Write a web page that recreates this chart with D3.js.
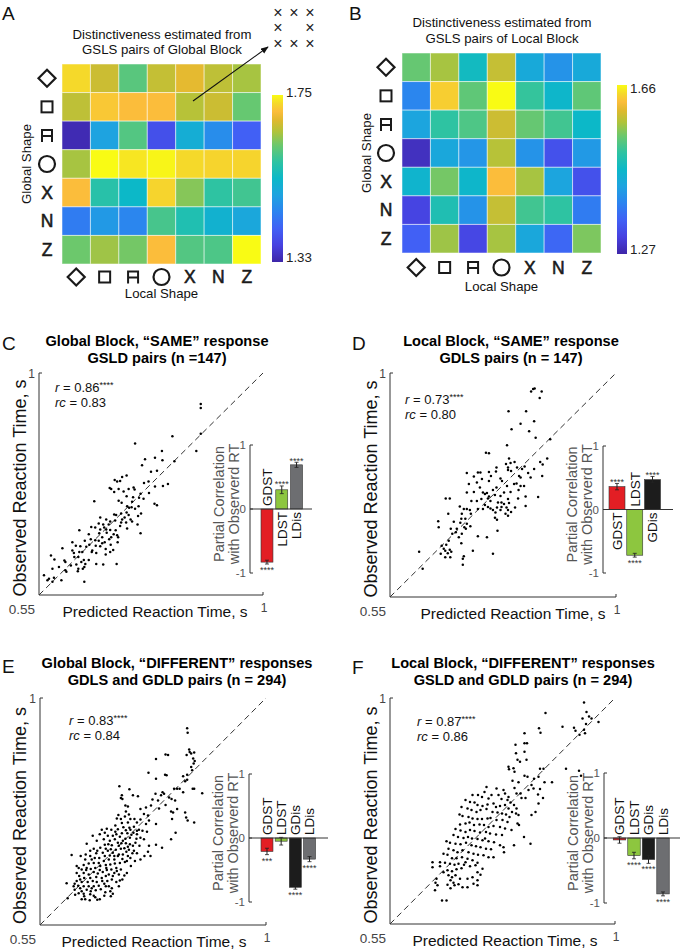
<!DOCTYPE html>
<html><head><meta charset="utf-8">
<script src="https://cdn.jsdelivr.net/npm/d3@7"></script>
<style>
body{margin:0;background:#fff}
svg text{font-family:'Liberation Sans',Arial,Helvetica,sans-serif}
</style>
</head><body>
<svg id="fig" width="680" height="951"></svg>
<script>
// ================= DATA =================
const shapeNames = ["diamond","square","arch","circle","X","N","Z"];

// Distinctiveness matrices (rows: global shape, cols: local shape)
const heatA = [
 [1.729,1.674,1.611,1.670,1.691,1.666,1.653],
 [1.666,1.716,1.708,1.708,1.662,1.674,1.620],
 [1.338,1.498,1.607,1.393,1.519,1.469,1.414],
 [1.653,1.750,1.737,1.746,1.729,1.725,1.725],
 [1.708,1.574,1.540,1.725,1.637,1.582,1.595],
 [1.448,1.485,1.460,1.599,1.565,1.527,1.506],
 [1.624,1.649,1.628,1.708,1.607,1.603,1.750]
];
const heatB = [
 [1.539,1.570,1.473,1.586,1.438,1.407,1.438],
 [1.391,1.633,1.535,1.660,1.508,1.461,1.535],
 [1.430,1.504,1.524,1.590,1.539,1.516,1.465],
 [1.286,1.434,1.410,1.578,1.407,1.329,1.414],
 [1.457,1.547,1.461,1.621,1.570,1.430,1.329],
 [1.313,1.488,1.407,1.586,1.516,1.504,1.379],
 [1.348,1.566,1.317,1.570,1.434,1.356,1.551]
];
const rangeA = [1.33, 1.75];
const rangeB = [1.27, 1.66];
const parulaPos = [0, .1, .2, .3, .4, .5, .6, .7, .78, .85, .9, .95, 1];
const parulaCol = ["#3e26a8","#4741e0","#4160f5","#2c83f0","#1ea3e0","#0cb8c8","#2ec3a2","#6cc86c","#b0c33a","#e0b92e","#fbbd3b","#f5d92a","#f9fb14"];

// Scatter data: [predicted RT, observed RT] in seconds
const scatterC = [
[.875,.937],[.875,.929],[.875,.877],[.818,.872],[.743,.857],[.866,.842],[.797,.842],[.783,.828],[.763,.825],[.798,.823],
[.822,.821],[.757,.813],[.787,.802],[.775,.800],[.726,.792],[.717,.789],[.702,.783],[.713,.781],[.707,.780],[.695,.765],
[.710,.765],[.692,.767],[.742,.764],[.730,.765],[.761,.777],[.770,.780],[.809,.775],[.799,.771],[.783,.770],[.771,.757],
[.754,.755],[.726,.750],[.739,.748],[.751,.747],[.760,.745],[.782,.735],[.787,.732],[.661,.740],[.710,.741],[.716,.737],
[.727,.730],[.736,.728],[.731,.727],[.750,.730],[.701,.713],[.705,.712],[.715,.715],[.726,.717],[.730,.712],[.734,.703],
[.737,.699],[.749,.710],[.755,.715],[.685,.703],[.693,.699],[.690,.693],[.703,.701],[.717,.703],[.715,.697],[.725,.697],
[.748,.693],[.670,.695],[.679,.693],[.655,.688],[.663,.687],[.673,.683],[.685,.683],[.693,.682],[.704,.681],[.713,.690],
[.631,.681],[.650,.673],[.671,.675],[.686,.676],[.700,.673],[.707,.671],[.709,.667],[.695,.667],[.677,.667],[.754,.675],
[.727,.685],[.654,.663],[.663,.661],[.670,.660],[.642,.660],[.677,.655],[.682,.657],[.694,.652],[.708,.657],[.617,.657],
[.624,.650],[.633,.649],[.645,.648],[.651,.652],[.664,.650],[.673,.649],[.684,.643],[.699,.641],[.693,.637],[.684,.632],
[.665,.635],[.656,.637],[.637,.637],[.620,.635],[.617,.640],[.631,.637],[.597,.645],[.574,.630],[.581,.622],[.601,.620],
[.603,.617],[.621,.627],[.635,.617],[.640,.621],[.625,.612],[.641,.607],[.638,.603],[.629,.603],[.628,.598],[.643,.613],
[.665,.613],[.679,.612],[.706,.613],[.650,.621],[.577,.603],[.590,.607],[.603,.600],[.605,.597],[.580,.585],[.560,.590],
[.567,.580],[.577,.577],[.595,.580],[.641,.577],[.570,.583],[.740,.768],[.701,.759],[.737,.739],[.743,.725],[.681,.687],
[.657,.640],[.614,.610],[.629,.627],[.720,.760],[.691,.663],[.722,.707],[.673,.707]
];
const scatterD = [
[.835,.968],[.838,.969],[.831,.963],[.852,.963],[.848,.950],[.786,.923],[.821,.923],[.810,.898],[.837,.903],[.792,.887],
[.827,.883],[.840,.870],[.783,.855],[.741,.840],[.747,.839],[.869,.867],[.863,.828],[.849,.821],[.854,.816],[.798,.821],
[.790,.819],[.781,.817],[.785,.810],[.762,.810],[.747,.801],[.725,.800],[.703,.799],[.717,.792],[.751,.793],[.770,.788],
[.785,.805],[.791,.803],[.803,.810],[.813,.807],[.818,.812],[.825,.799],[.830,.790],[.837,.807],[.853,.793],[.807,.793],
[.773,.783],[.747,.783],[.733,.787],[.723,.780],[.797,.777],[.802,.778],[.810,.773],[.817,.773],[.783,.773],[.762,.770],
[.755,.765],[.777,.760],[.790,.761],[.806,.765],[.735,.760],[.739,.757],[.743,.759],[.717,.761],[.703,.760],[.747,.752],
[.759,.755],[.770,.753],[.732,.747],[.745,.748],[.712,.743],[.723,.743],[.661,.748],[.669,.748],[.785,.747],[.777,.737],
[.787,.739],[.805,.748],[.820,.752],[.845,.751],[.689,.732],[.697,.727],[.703,.727],[.709,.725],[.739,.735],[.745,.731],
[.735,.727],[.750,.728],[.763,.730],[.772,.731],[.782,.730],[.755,.725],[.770,.725],[.785,.725],[.780,.717],[.791,.721],
[.820,.733],[.799,.730],[.759,.709],[.763,.705],[.785,.713],[.760,.720],[.666,.717],[.693,.717],[.692,.707],[.711,.717],
[.646,.702],[.647,.690],[.671,.687],[.690,.699],[.703,.697],[.710,.692],[.683,.687],[.701,.687],[.674,.677],[.681,.680],
[.693,.677],[.687,.670],[.725,.672],[.743,.670],[.764,.683],[.667,.663],[.692,.658],[.662,.655],[.653,.653],[.657,.647],
[.669,.645],[.672,.641],[.715,.643],[.665,.638],[.651,.637],[.660,.630],[.670,.630],[.697,.632],[.695,.627],[.755,.637],
[.695,.615],[.608,.641],[.615,.607],[.761,.802],[.729,.770],[.707,.777],[.750,.743],[.765,.740],[.725,.727],[.700,.707],
[.677,.701],[.660,.643],[.698,.690],[.810,.790],[.787,.828],[.772,.740],[.730,.800]
];
const scatterE = [
[.843,.940],[.844,.931],[.800,.888],[.805,.887],[.781,.879],[.847,.898],[.848,.893],[.851,.890],[.857,.892],[.842,.887],
[.855,.880],[.858,.875],[.856,.870],[.851,.863],[.853,.857],[.835,.845],[.843,.848],[.766,.852],[.781,.840],[.799,.848],
[.802,.847],[.708,.825],[.728,.819],[.713,.807],[.711,.802],[.735,.807],[.745,.805],[.714,.800],[.774,.799],[.791,.807],
[.794,.813],[.797,.810],[.817,.820],[.823,.820],[.828,.820],[.835,.813],[.854,.820],[.857,.820],[.873,.811],[.807,.803],
[.812,.800],[.819,.797],[.843,.838],[.839,.835],[.720,.787],[.761,.783],[.771,.787],[.787,.781],[.811,.775],[.815,.773],
[.839,.773],[.841,.763],[.844,.757],[.857,.753],[.721,.775],[.706,.768],[.719,.765],[.727,.769],[.730,.760],[.711,.760],
[.703,.761],[.725,.753],[.743,.753],[.750,.759],[.765,.767],[.767,.757],[.761,.750],[.781,.750],[.700,.747],[.705,.740],
[.716,.744],[.728,.743],[.737,.745],[.747,.739],[.754,.737],[.736,.733],[.721,.738],[.692,.739],[.679,.733],[.669,.730],
[.685,.727],[.695,.727],[.702,.730],[.713,.732],[.724,.732],[.732,.729],[.743,.730],[.655,.727],[.643,.711],[.663,.717],
[.677,.720],[.689,.717],[.699,.720],[.709,.725],[.720,.721],[.729,.723],[.742,.721],[.750,.723],[.757,.720],[.767,.707],
[.781,.709],[.793,.703],[.811,.720],[.820,.733],[.765,.695],[.770,.687],[.679,.709],[.686,.710],[.693,.708],[.705,.713],
[.712,.712],[.721,.712],[.729,.710],[.735,.707],[.748,.707],[.670,.703],[.657,.701],[.650,.697],[.664,.697],[.675,.693],
[.685,.697],[.691,.700],[.701,.699],[.711,.701],[.718,.702],[.727,.699],[.737,.697],[.743,.692],[.613,.689],[.631,.687],
[.641,.690],[.650,.687],[.659,.683],[.668,.683],[.679,.687],[.689,.688],[.698,.687],[.707,.690],[.715,.690],[.725,.687],
[.730,.683],[.698,.680],[.687,.680],[.677,.677],[.667,.673],[.657,.673],[.647,.672],[.637,.669],[.627,.663],[.623,.667],
[.633,.660],[.642,.659],[.651,.661],[.660,.663],[.670,.667],[.681,.669],[.690,.670],[.699,.672],[.709,.673],[.719,.675],
[.657,.655],[.665,.652],[.675,.655],[.683,.659],[.692,.660],[.702,.663],[.711,.660],[.637,.653],[.647,.650],[.628,.647],
[.638,.643],[.650,.643],[.662,.645],[.673,.643],[.681,.647],[.687,.650],[.698,.653],[.707,.650],[.623,.637],[.633,.635],
[.645,.635],[.655,.637],[.663,.635],[.674,.637],[.684,.637],[.693,.640],[.603,.633],[.619,.632],[.626,.628],[.637,.627],
[.647,.627],[.657,.627],[.667,.628],[.681,.627],[.693,.623],[.707,.627],[.714,.640],[.643,.620],[.651,.617],[.661,.619],
[.671,.621],[.690,.617],[.627,.613],[.637,.612],[.650,.611],[.657,.608],[.620,.610],[.619,.620],[.605,.603],[.633,.601],
[.640,.601],[.649,.599],[.664,.600],[.669,.601],[.691,.607],[.695,.612],[.638,.607],[.630,.623],[.617,.627],[.660,.605],
[.678,.608],[.680,.615],[.709,.638],[.718,.648],[.723,.653],[.731,.667],[.739,.677],[.750,.680],[.758,.687],[.734,.692],
[.722,.695],[.714,.681],[.705,.687],[.673,.739],[.683,.741],[.730,.739],[.713,.752],[.738,.760],[.757,.770],[.750,.780],
[.785,.797],[.725,.785],[.700,.735],[.707,.707],[.715,.717],[.725,.705],[.740,.713],[.681,.701],[.695,.693],[.662,.692],
[.640,.680],[.653,.680],[.682,.663],[.695,.647],[.703,.657],[.669,.659],[.643,.663],[.630,.640],[.678,.632],[.653,.623],
[.633,.617],[.702,.635],[.687,.627],[.623,.653],[.723,.677],[.743,.737],[.763,.735],[.823,.780],[.813,.760],[.780,.810],
[.800,.788]
];
const scatterF = [
[.938,.991],[.861,.970],[.943,.972],[.935,.959],[.948,.963],[.953,.959],[.967,.952],[.942,.948],[.918,.941],[.895,.943],
[.921,.935],[.929,.927],[.938,.937],[.940,.930],[.848,.940],[.851,.931],[.819,.930],[.819,.910],[.824,.910],[.801,.907],
[.819,.893],[.802,.890],[.805,.877],[.810,.873],[.823,.877],[.787,.863],[.788,.858],[.797,.860],[.799,.853],[.850,.859],
[.857,.859],[.902,.859],[.928,.855],[.932,.845],[.819,.845],[.825,.843],[.838,.839],[.847,.843],[.859,.832],[.874,.832],
[.795,.835],[.807,.832],[.833,.827],[.837,.820],[.827,.817],[.850,.819],[.743,.823],[.763,.820],[.777,.817],[.799,.821],
[.803,.810],[.811,.810],[.813,.801],[.780,.810],[.787,.803],[.821,.801],[.846,.808],[.856,.801],[.715,.807],[.726,.807],
[.739,.813],[.734,.803],[.747,.800],[.753,.807],[.767,.807],[.773,.799],[.785,.797],[.791,.792],[.798,.787],[.803,.780],
[.847,.790],[.841,.773],[.833,.767],[.701,.797],[.710,.793],[.719,.792],[.725,.787],[.735,.785],[.745,.788],[.757,.790],
[.762,.783],[.770,.785],[.780,.787],[.787,.780],[.794,.773],[.802,.770],[.807,.767],[.693,.783],[.705,.780],[.713,.777],
[.723,.773],[.731,.777],[.743,.779],[.755,.773],[.765,.772],[.774,.770],[.782,.768],[.789,.763],[.805,.750],[.808,.747],
[.689,.768],[.695,.765],[.707,.763],[.715,.760],[.725,.759],[.734,.759],[.745,.760],[.751,.761],[.763,.757],[.775,.757],
[.785,.753],[.690,.748],[.701,.750],[.709,.752],[.718,.747],[.729,.748],[.738,.747],[.747,.743],[.757,.745],[.770,.743],
[.780,.740],[.793,.737],[.818,.723],[.831,.710],[.681,.739],[.691,.736],[.701,.733],[.710,.737],[.719,.735],[.730,.732],
[.742,.733],[.750,.730],[.762,.728],[.774,.727],[.677,.727],[.686,.723],[.697,.721],[.706,.723],[.714,.720],[.725,.719],
[.735,.717],[.747,.715],[.758,.713],[.770,.707],[.777,.703],[.798,.707],[.663,.715],[.670,.712],[.681,.710],[.691,.709],
[.702,.712],[.713,.707],[.722,.705],[.731,.703],[.742,.700],[.752,.699],[.778,.693],[.667,.700],[.677,.697],[.685,.693],
[.695,.697],[.707,.693],[.717,.690],[.726,.688],[.737,.687],[.747,.683],[.757,.683],[.657,.690],[.665,.688],[.674,.681],
[.683,.681],[.694,.683],[.705,.680],[.715,.677],[.725,.672],[.650,.673],[.660,.672],[.670,.670],[.679,.668],[.687,.670],
[.698,.668],[.710,.665],[.721,.667],[.635,.673],[.635,.663],[.650,.665],[.665,.657],[.674,.655],[.683,.659],[.693,.661],
[.725,.653],[.731,.648],[.667,.647],[.674,.643],[.681,.647],[.690,.640],[.705,.640],[.715,.643],[.725,.637],[.643,.640],
[.641,.632],[.671,.637],[.677,.632],[.687,.629],[.705,.623],[.717,.630],[.725,.627],[.645,.627],[.640,.617],[.671,.621],
[.679,.627],[.695,.623],[.665,.628],[.654,.597],[.663,.597],[.657,.653],[.735,.660],[.701,.673],[.740,.720]
];

// Partial-correlation insets
const barLabelsC = ["GDST","LDST","LDis"], barValsC = [-0.83, 0.30, 0.69], barErrC = [0.03, 0.06, 0.04], starsC = ["****","****","****"];
const barLabelsD = ["GDST","LDST","GDis"], barValsD = [0.36, -0.72, 0.47], barErrD = [0.05, 0.03, 0.05], starsD = ["****","****","****"];
const barLabelsE = ["GDST","LDST","GDis","LDis"], barValsE = [-0.21, -0.05, -0.77, -0.33], barErrE = [0.05, 0.06, 0.03, 0.04], starsE = ["***","","****","****"];
const barLabelsF = ["GDST","LDST","GDis","LDis"], barValsF = [-0.03, -0.27, -0.33, -0.86], barErrF = [0.05, 0.05, 0.06, 0.03], starsF = ["","****","****","****"];
const barColors = {GDST:"#e31e24", LDST:"#8dc63f", GDis:"#1c1c1c", LDis:"#6d6e71"};

const statsR  = {C:"0.86", D:"0.73", E:"0.83", F:"0.87"};
const statsRc = {C:"0.83", D:"0.80", E:"0.84", F:"0.86"};
const titles = {
  C:["Global Block, \u201CSAME\u201D response","GSLD pairs (n =147)"],
  D:["Local Block, \u201CSAME\u201D response","GDLS pairs (n = 147)"],
  E:["Global Block, \u201CDIFFERENT\u201D responses","GDLS and GDLD pairs (n = 294)"],
  F:["Local Block, \u201CDIFFERENT\u201D responses","GSLD and GDLD pairs (n = 294)"]
};

// ================= DRAWING =================
const svg = d3.select("#fig");
const defs = svg.append("defs");
const parula = d3.scaleLinear().domain(parulaPos).range(parulaCol).interpolate(d3.interpolateRgb);

const grad = defs.append("linearGradient").attr("id","parulaGrad")
  .attr("x1",0).attr("y1",1).attr("x2",0).attr("y2",0);
parulaPos.forEach((p,i)=>grad.append("stop").attr("offset",p).attr("stop-color",parulaCol[i]));

defs.append("marker").attr("id","arrowHead").attr("viewBox","0 0 10 10")
  .attr("refX",9).attr("refY",5).attr("markerWidth",7).attr("markerHeight",7)
  .attr("orient","auto").append("path").attr("d","M0,1L10,5L0,9Z").attr("fill","#111");

function txt(g,x,y,s,o={}){
  return g.append("text").attr("x",x).attr("y",y).text(s)
    .attr("font-size",o.size||13).attr("text-anchor",o.anchor||"start")
    .attr("fill",o.fill||"#111").attr("font-weight",o.weight||"normal");
}

function drawShape(g,s,cx,cy){
  const col="#1a1a1a";
  if(s==="diamond") g.append("path").attr("d",`M${cx},${cy-8.5}L${cx+8.5},${cy}L${cx},${cy+8.5}L${cx-8.5},${cy}Z`)
      .attr("fill","none").attr("stroke",col).attr("stroke-width",2.2);
  else if(s==="square") g.append("rect").attr("x",cx-5.5).attr("y",cy-5.5).attr("width",11).attr("height",11)
      .attr("fill","none").attr("stroke",col).attr("stroke-width",2);
  else if(s==="arch") g.append("path").attr("d",`M${cx-5},${cy+6.5}V${cy-5.5}H${cx+5}V${cy+6.5}M${cx-5},${cy+0.5}H${cx+5}`)
      .attr("fill","none").attr("stroke",col).attr("stroke-width",2);
  else if(s==="circle") g.append("circle").attr("cx",cx).attr("cy",cy).attr("r",8)
      .attr("fill","none").attr("stroke",col).attr("stroke-width",2.2);
  else g.append("text").attr("x",cx).attr("y",cy).attr("dy","0.36em").attr("text-anchor","middle")
      .attr("font-size",17.5).attr("fill",col).attr("stroke",col).attr("stroke-width",0.55).text(s);
}

function drawHeat(c){
  const g = svg.append("g");
  const xs = d3.scaleBand().domain(d3.range(7)).range([c.x0,c.x1]);
  const ys = d3.scaleBand().domain(d3.range(7)).range([c.y0,c.y1]);
  const norm = d3.scaleLinear().domain(c.range).range([0,1]).clamp(true);
  c.values.forEach((row,r)=>row.forEach((v,k)=>{
    g.append("rect").attr("x",xs(k)).attr("y",ys(r)).attr("width",xs.bandwidth()).attr("height",ys.bandwidth())
      .attr("fill",parula(norm(v))).attr("stroke","rgba(255,255,255,0.5)").attr("stroke-width",1);
  }));
  shapeNames.forEach((s,i)=>{
    drawShape(g,s,xs(i)+xs.bandwidth()/2,c.colLabY);
    drawShape(g,s,c.rowLabX,ys(i)+ys.bandwidth()/2);
  });
  txt(g,(c.x0+c.x1)/2,c.xLabY,"Local Shape",{size:13.2,anchor:"middle"});
  g.append("text").attr("transform",`translate(${c.yLabX},${(c.y0+c.y1)/2}) rotate(-90)`)
    .attr("text-anchor","middle").attr("dy","0.35em").attr("font-size",13.2).attr("fill","#111").text("Global Shape");
  // colorbar
  g.append("rect").attr("x",c.cbX).attr("y",c.cbTop).attr("width",c.cbW).attr("height",c.cbBot-c.cbTop)
    .attr("fill","url(#parulaGrad)");
  txt(g,c.cbX+c.cbW+3,c.cbTopLab,c.range[1].toFixed(2),{size:13.3,fill:"#222"});
  txt(g,c.cbX+c.cbW+3,c.cbBotLab,c.range[0].toFixed(2),{size:13.3,fill:"#222"});
  txt(g,c.titleX,c.titleY,"Distinctiveness estimated from",{size:13.2,anchor:"middle"});
  txt(g,c.titleX,c.titleY+15.5,c.title2,{size:13.2,anchor:"middle"});
  txt(g,c.letterX,20,c.letter,{size:19,fill:"#111"});
}

drawHeat({values:heatA,range:rangeA,x0:62,x1:261,y0:64,y1:264,colLabY:277,rowLabX:47,xLabY:298,yLabX:26,
  cbX:272,cbW:11,cbTop:95,cbBot:262,cbTopLab:97,cbBotLab:262,titleX:162,titleY:38.5,
  title2:"GSLS pairs of Global Block",letter:"A",letterX:2});
drawHeat({values:heatB,range:rangeB,x0:402,x1:601,y0:53,y1:253,colLabY:267.5,rowLabX:386,xLabY:291,yLabX:366,
  cbX:617,cbW:10,cbTop:85,cbBot:254,cbTopLab:93,cbBotLab:254,titleX:502,titleY:27,
  title2:"GSLS pairs of Local Block",letter:"B",letterX:349});

// annotation in A
const ann = svg.append("g");
ann.append("line").attr("x1",193).attr("y1",101).attr("x2",268).attr("y2",47)
  .attr("stroke","#111").attr("stroke-width",1.1).attr("marker-end","url(#arrowHead)");
const crossPos = [[0,0],[1,0],[2,0],[0,1],[2,1],[0,2],[1,2],[2,2]];
crossPos.forEach(([i,j])=>{
  ann.append("text").attr("x",278+16*i).attr("y",12+15.5*j).attr("dy","0.35em").attr("text-anchor","middle")
    .attr("font-size",16).attr("fill","#222").text("\u00D7");
});

function drawScatter(p){
  const g = svg.append("g");
  const x = d3.scaleLinear().domain([0.55,1]).range([p.x0,p.x1]);
  const y = d3.scaleLinear().domain([0.55,1]).range([p.yB,p.yT]);
  const ax = "#333";
  g.append("path").attr("d",`M${x(0.55)},${y(1)}V${y(0.55)}H${x(1)}`).attr("fill","none").attr("stroke",ax).attr("stroke-width",1);
  g.append("line").attr("x1",x(0.55)).attr("x2",x(0.55)+3).attr("y1",y(1)).attr("y2",y(1)).attr("stroke",ax);
  g.append("line").attr("x1",x(1)).attr("x2",x(1)).attr("y1",y(0.55)).attr("y2",y(0.55)-3).attr("stroke",ax);
  txt(g,x(0.55)-4,y(1)+5,"1",{size:12,anchor:"end",fill:"#444"});
  txt(g,x(1)+1,y(0.55)+17,"1",{size:12,anchor:"middle",fill:"#444"});
  txt(g,x(0.55)-4,y(0.55)+19,"0.55",{size:13.5,anchor:"end",fill:"#444"});
  g.append("line").attr("x1",x(0.55)).attr("y1",y(0.55)).attr("x2",x(1)).attr("y2",y(1))
    .attr("stroke","#333").attr("stroke-width",1).attr("stroke-dasharray","6,4");
  g.selectAll("circle.pt").data(p.data).join("circle").attr("class","pt")
    .attr("cx",d=>x(d[0])).attr("cy",d=>y(d[1])).attr("r",1.25).attr("fill","#000");
  // labels
  g.append("text").attr("transform",`translate(${p.ylabX},${(p.yT+p.yB)/2+4}) rotate(-90)`)
    .attr("text-anchor","middle").attr("dy","0.35em").attr("font-size",18).attr("fill","#111").text("Observed Reaction Time, s");
  txt(g,p.xlabX,p.yB+22,"Predicted Reaction Time, s",{size:15.5,anchor:"middle"});
  // titles
  txt(g,p.letterX,p.letterY,p.id,{size:19});
  txt(g,p.titleX,p.titleY-1.5,titles[p.id][0],{size:14.6,anchor:"middle",weight:"bold",fill:"#000"});
  txt(g,p.titleX,p.titleY+15.5,titles[p.id][1],{size:14.6,anchor:"middle",weight:"bold",fill:"#000"});
  // stats
  const t1 = g.append("text").attr("x",p.rX).attr("y",p.rY).attr("font-size",13).attr("fill","#111");
  t1.append("tspan").attr("font-style","italic").text("r");
  t1.append("tspan").text(" = "+statsR[p.id]);
  t1.append("tspan").attr("font-size",9).attr("dy",-4).text("****");
  const t2 = g.append("text").attr("x",p.rX).attr("y",p.rY+15).attr("font-size",13).attr("fill","#111");
  t2.append("tspan").attr("font-style","italic").text("rc");
  t2.append("tspan").text(" = "+statsRc[p.id]);
  drawInset(g,p.inset);
}

function drawInset(g,s){
  const ix = d3.scaleBand().domain(s.labels).range(s.band).paddingInner(s.pad).paddingOuter(0);
  const iy = d3.scaleLinear().domain([-1,1]).range([s.yB,s.yT]);
  const bw = ix.bandwidth();
  s.labels.forEach((l,i)=>{
    const v = s.vals[i], e = s.errs[i], cx = ix(l)+bw/2;
    g.append("rect").attr("x",ix(l)).attr("y",Math.min(iy(v),iy(0))).attr("width",bw)
      .attr("height",Math.abs(iy(v)-iy(0))).attr("fill",barColors[l]).attr("stroke","#333").attr("stroke-width",0.6);
    g.append("line").attr("x1",cx).attr("x2",cx).attr("y1",iy(v-e)).attr("y2",iy(v+e)).attr("stroke","#222").attr("stroke-width",1);
    [v-e,v+e].forEach(q=>g.append("line").attr("x1",cx-2).attr("x2",cx+2).attr("y1",iy(q)).attr("y2",iy(q)).attr("stroke","#222").attr("stroke-width",0.8));
    if(s.stars[i]){
      const sy = v<0 ? iy(v-e)+9 : iy(v+e)+1.5;
      txt(g,cx,sy,s.stars[i],{size:9,anchor:"middle",fill:"#333"});
    }
    const lab = g.append("text").attr("font-size",13.5).attr("fill","#111").attr("dy","0.36em").text(l);
    if(v<0) lab.attr("text-anchor","start").attr("transform",`translate(${cx},${iy(0)-3}) rotate(-90)`);
    else lab.attr("text-anchor","end").attr("transform",`translate(${cx},${iy(0)+3}) rotate(-90)`);
  });
  const ac="#333";
  g.append("line").attr("x1",s.ax).attr("x2",s.ax).attr("y1",iy(1)).attr("y2",iy(-1)).attr("stroke",ac);
  g.append("line").attr("x1",s.ax).attr("x2",s.axEnd).attr("y1",iy(0)).attr("y2",iy(0)).attr("stroke",ac);
  [1,0,-1].forEach(t=>{
    g.append("line").attr("x1",s.ax).attr("x2",s.ax+3).attr("y1",iy(t)).attr("y2",iy(t)).attr("stroke",ac);
    txt(g,s.ax-4,iy(t)+4,String(t),{size:11.5,anchor:"end",fill:"#555"});
  });
  const cy = (s.yT+s.yB)/2 - 5;
  [["Partial Correlation",-31],["with Observerd RT",-16]].forEach(([t,dx])=>{
    g.append("text").attr("transform",`translate(${s.ax+dx},${cy}) rotate(-90)`).attr("text-anchor","middle")
      .attr("dy","0.36em").attr("font-size",14.5).attr("fill","#555").text(t);
  });
}

drawScatter({id:"C",data:scatterC,x0:39,x1:263,yT:373,yB:595,letterX:2,letterY:350,titleX:157,titleY:347,
  ylabX:20,xlabX:155,rX:55,rY:392,
  inset:{labels:barLabelsC,vals:barValsC,errs:barErrC,stars:starsC,ax:250,yT:445,yB:573,band:[261,302.5],pad:0.19,axEnd:312}});
drawScatter({id:"D",data:scatterD,x0:390,x1:616,yT:373,yB:597,letterX:352,letterY:350,titleX:511,titleY:347,
  ylabX:371,xlabX:513,rX:405,rY:404,
  inset:{labels:barLabelsD,vals:barValsD,errs:barErrD,stars:starsD,ax:603,yT:446,yB:573,band:[609,660.5],pad:0.1,axEnd:673}});
drawScatter({id:"E",data:scatterE,x0:40,x1:266,yT:698,yB:925,letterX:2,letterY:673,titleX:177,titleY:669,
  ylabX:20,xlabX:154,rX:69,rY:725,
  inset:{labels:barLabelsE,vals:barValsE,errs:barErrE,stars:starsE,ax:249,yT:774,yB:902,band:[261,315.5],pad:0.155,axEnd:328}});
drawScatter({id:"F",data:scatterF,x0:390,x1:615,yT:698,yB:924,letterX:352,letterY:674,titleX:523,titleY:669,
  ylabX:371,xlabX:505,rX:417,rY:726,
  inset:{labels:barLabelsF,vals:barValsF,errs:barErrF,stars:starsF,ax:604,yT:773,yB:903,band:[613.25,669.25],pad:0.14,axEnd:680}});
</script>
</body></html>
